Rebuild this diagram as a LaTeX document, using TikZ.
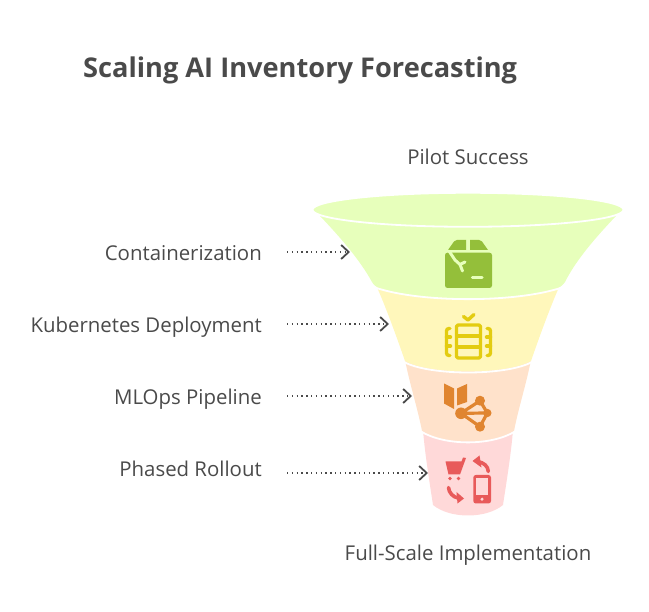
\documentclass[tikz,border=0pt]{standalone}
\usepackage{fontspec}
\setmainfont{Open Sans}
\usetikzlibrary{arrows.meta}
\definecolor{ink}{HTML}{4A4A4A}
\definecolor{gfill}{HTML}{E7FFBB}
\definecolor{yfill}{HTML}{FFF7BB}
\definecolor{ofill}{HTML}{FFE2CB}
\definecolor{rfill}{HTML}{FFD9D9}
\definecolor{gicon}{HTML}{94BF3A}
\definecolor{yicon}{HTML}{E3CC10}
\definecolor{oicon}{HTML}{E08530}
\definecolor{ricon}{HTML}{E85A5A}
\tikzset{
  lab/.style={text=ink,font=\fontsize{20.4}{24}\selectfont,inner sep=0pt,text height=14pt,text depth=4pt},
  conn/.style={draw=ink,line width=1.3pt,dash pattern=on 1.3pt off 3.5pt,
    -{Straight Barb[length=7.5pt,width=14pt,line width=1.8pt]}},
  sep/.style={draw=white,line width=1.8pt},
  yl/.style={draw=yicon,line width=3.4pt,line cap=round,line join=round},
  ol/.style={draw=oicon,line width=3.2pt},
  rl/.style={draw=ricon,line width=3.6pt,line cap=round}
}
\begin{document}
\begin{tikzpicture}[x=1pt,y=-1pt]
\useasboundingbox (0,0) rectangle (649,612);
% funnel
\fill[rfill] (423,430) .. controls (425,455) and (430,485) .. (433,505)
  .. controls (450,519) and (486,519) .. (503,505)
  .. controls (506,485) and (511,455) .. (513,430) -- cycle;
\fill[ofill] (405,360) .. controls (410,385) and (418,410) .. (422,431)
  .. controls (445,445) and (491,445) .. (514,431)
  .. controls (518,410) and (526,385) .. (531,360) -- cycle;
\draw[sep] (421,431.5) .. controls (445,446) and (491,446) .. (515,431.5);
\fill[yfill] (376,285) .. controls (385,305) and (396,335) .. (405,361)
  .. controls (430,375) and (506,375) .. (531,361)
  .. controls (540,335) and (551,305) .. (560,285) -- cycle;
\draw[sep] (404,362) .. controls (430,376) and (506,376) .. (532,362);
\fill[gfill] (320,216) .. controls (340,237) and (360,260) .. (372,282)
  .. controls (374,285) and (375,286) .. (377,287)
  .. controls (420,302) and (516,302) .. (560,287)
  .. controls (561,286) and (563,285) .. (565,282)
  .. controls (576,260) and (596,237) .. (616,216) -- cycle;
\draw[sep] (375,287.5) .. controls (420,303) and (516,303) .. (562,287.5);
\draw[sep,fill=gfill] (468,209.8) ellipse [x radius=155.5,y radius=17];
% icon: container
\fill[gicon] (448,250) -- (454,241.5) .. controls (455,240) and (456,240) .. (457,240) -- (466,240) -- (466,250) -- cycle;
\fill[gicon] (470,240) -- (479,240) .. controls (480,240) and (481,240) .. (482,241.5) -- (488,250) -- (470,250) -- cycle;
\fill[gicon,rounded corners=2.5pt] (445,252.7) rectangle (492,288);
\draw[draw=gfill,line width=3pt,line cap=round,line join=round] (449,251) -- (455,260) -- (460,264.5) -- (465,262);
\draw[draw=gfill,line width=3pt,line cap=round] (460,264.5) -- (462.5,271);
\draw[draw=gfill,line width=3.2pt,line cap=round] (472.5,277.5) -- (482,277.5);
% icon: kubernetes
\draw[yl] (463.5,316.5) -- (468,320) -- (474,314.5);
\draw[yl,rounded corners=1.5pt] (456.5,325) rectangle (480.5,358);
\draw[yl] (457,336) -- (480,336) (457,347) -- (480,347);
\draw[yl,rounded corners=2.5pt] (450,328.5) -- (446.5,328.5) -- (446.5,355.5) -- (450,355.5);
\draw[yl] (446.5,337) -- (450.5,337) (446.5,346) -- (450.5,346);
\draw[yl,rounded corners=2.5pt] (487,328.5) -- (490.5,328.5) -- (490.5,355.5) -- (487,355.5);
\draw[yl] (490.5,337) -- (486.5,337) (490.5,346) -- (486.5,346);
% icon: mlops
\fill[oicon] (444,383.5) -- (454,388.5) -- (454,409) -- (444,403.5) -- cycle;
\fill[oicon] (457,388.5) -- (467,384) -- (467,402) -- (457,405.5) -- cycle;
\draw[ol] (461,413.3) -- (480,400.7) -- (487.3,413) -- (480,426.7) -- cycle (461,413.3) -- (487.3,413);
\fill[oicon] (461,413.3) circle (5.8) (480,400.7) circle (5) (487.3,413) circle (4.2) (480,426.7) circle (5);
% icon: rollout
\fill[ricon] (445.5,461.5) -- (461.5,461.5) -- (463,457.5) -- (466,458) -- (460,474.5) -- (448.5,474.5) -- cycle;
\fill[ricon] (450,478.5) circle (1.9) (458.5,478.5) circle (1.9);
\draw[rl] (488.3,471.5) .. controls (488,466) and (484,463) .. (478,461.5);
\fill[ricon] (472.5,461) -- (479.5,455.5) -- (481.5,467.5) -- cycle;
\draw[rl] (448.5,487.5) .. controls (449,493) and (453,497) .. (458,498);
\fill[ricon] (464,498.5) -- (456.5,492) -- (457.5,503.5) -- cycle;
\fill[ricon,rounded corners=2.5pt] (473.3,475) rectangle (491,503.5);
\fill[rfill] (476.2,478.5) rectangle (488.2,495);
\fill[rfill] (482,499.2) circle (1.7);
% texts
\node[lab,font=\bfseries\fontsize{27.2}{30}\selectfont,anchor=west] (title) at (83,73) {Scaling AI Inventory Forecasting};
\node[lab] (top) at (468,160) {Pilot Success};
\node[lab] (bottom) at (468,556) {Full-Scale Implementation};
\node[lab,anchor=east] (l1) at (262,256) {Containerization};
\node[lab,anchor=east] (l2) at (262,328) {Kubernetes Deployment};
\node[lab,anchor=east] (l3) at (262,400) {MLOps Pipeline};
\node[lab,anchor=east] (l4) at (262,472) {Phased Rollout};
% connectors
\coordinate (s1) at (287,252); \coordinate (t1) at (350,252);
\coordinate (s2) at (287,324); \coordinate (t2) at (389,324);
\coordinate (s3) at (287,396); \coordinate (t3) at (412,396);
\coordinate (s4) at (287,473); \coordinate (t4) at (428,473);
\draw[conn] (s1) -- (t1);
\draw[conn] (s2) -- (t2);
\draw[conn] (s3) -- (t3);
\draw[conn] (s4) -- (t4);
\end{tikzpicture}
\end{document}
